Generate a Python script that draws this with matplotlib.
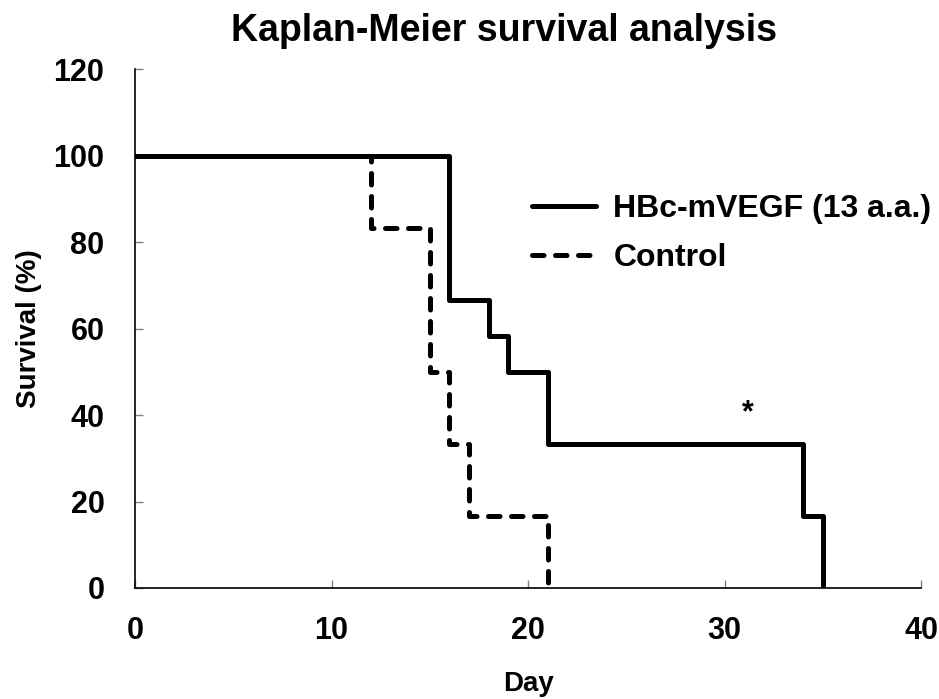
import matplotlib.pyplot as plt

plt.rcParams['font.family'] = ['Liberation Sans', 'DejaVu Sans']
plt.rcParams['font.weight'] = 'bold'

# survival curves (step changes happen at these days)
hbc_days = [0, 16, 18, 19, 21, 34, 35]
hbc_surv = [100, 66.7, 58.3, 50, 33.3, 16.7, 0]
ctrl_days = [0, 12, 15, 16, 17, 21]
ctrl_surv = [100, 83.3, 50, 33.3, 16.7, 0]

fig = plt.figure(figsize=(9.39, 6.99), dpi=100)
ax = fig.add_axes([0.1438, 0.1588, 0.8372, 0.7422])

ax.step(hbc_days, hbc_surv, where="post", color="black", lw=3.6,
        solid_joinstyle="round", solid_capstyle="round", label="HBc-mVEGF (13 a.a.)")
ax.step(ctrl_days, ctrl_surv, where="post", color="black", lw=3.6,
        linestyle=(0, (2.3, 2.3)), dash_capstyle="round", label="Control")

ax.text(31.2, 40.5, "*", fontsize=22, fontweight="bold", ha="center", va="center")

ax.set_xlim(0, 40)
ax.set_ylim(0, 120)
ax.set_xticks([0, 10, 20, 30, 40])
ax.set_yticks([0, 20, 40, 60, 80, 100, 120])
ax.tick_params(direction="in", labelsize=22, length=6, width=1, color="gray")
ax.tick_params(axis="x", pad=20)
ax.tick_params(axis="y", pad=22)
ax.spines["top"].set_visible(False)
ax.spines["right"].set_visible(False)
for s in ("left", "bottom"):
    ax.spines[s].set_linewidth(1.2)
ax.set_xlabel("Day", fontsize=20, fontweight="bold", labelpad=18)
ax.set_ylabel("Survival (%)", fontsize=20, fontweight="bold", labelpad=8)
fig.text(0.537, 0.955, "Kaplan-Meier survival analysis", fontsize=27,
         fontweight="bold", ha="center", va="center")

ax.legend(loc="upper left", bbox_to_anchor=(0.468, 0.815), frameon=False,
          fontsize=23, handlelength=2.0, handletextpad=0.56, labelspacing=0.6)

fig.savefig("out.png")
